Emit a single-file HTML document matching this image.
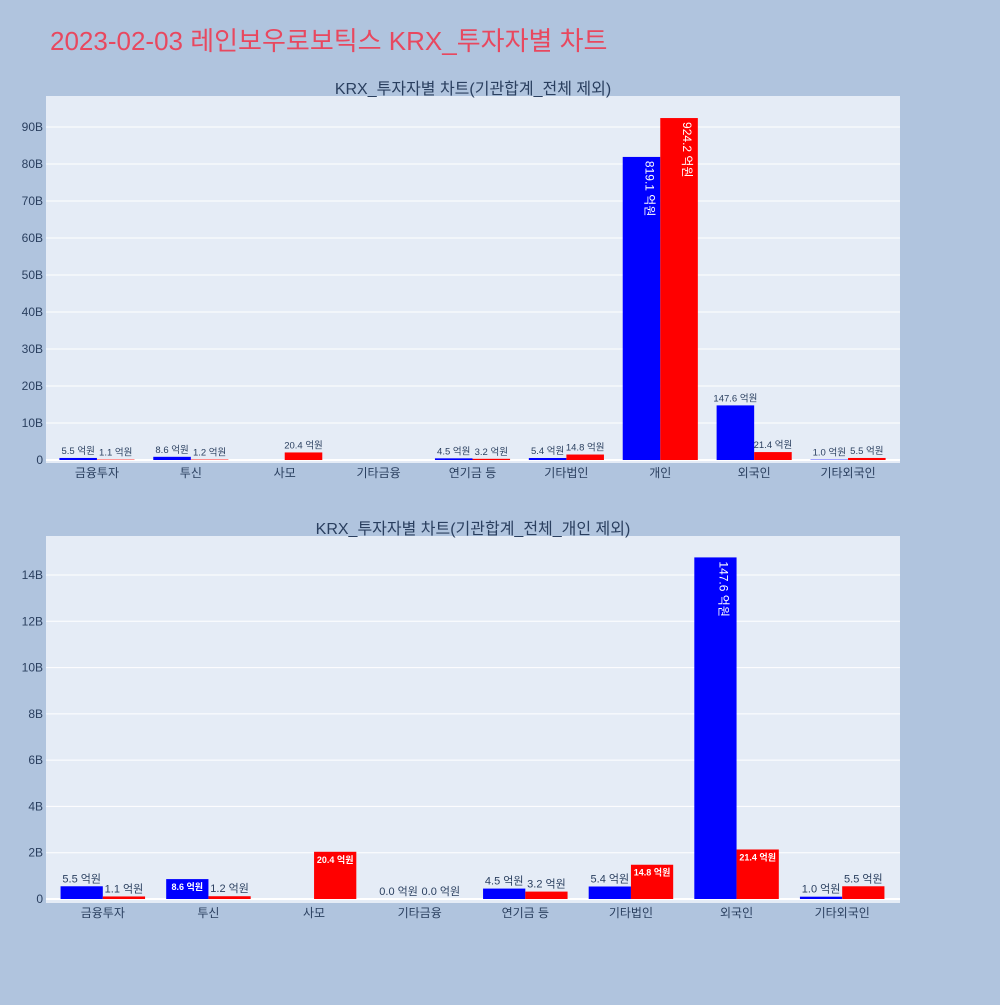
<!DOCTYPE html>
<html><head><meta charset="utf-8">
<style>
body{margin:0;background:#b0c4de;font-family:"Liberation Sans","Noto Sans CJK KR",sans-serif;}
svg text{font-family:"Liberation Sans","Noto Sans CJK KR",sans-serif;}
</style></head>
<body>
<svg id="svg" width="1000" height="1000" xmlns="http://www.w3.org/2000/svg">
<rect width="1000" height="1000" fill="#b0c4de"/>
<text x="50" y="50" font-size="26" fill="#e8485f">2023-02-03 레인보우로보틱스 KRX_투자자별 차트</text>
</svg>
<script>
const cats1 = ["금융투자","투신","사모","기타금융","연기금 등","기타법인","개인","외국인","기타외국인"];
const blue1 = [5.5, 8.6, null, null, 4.5, 5.4, 819.1, 147.6, 1.0];
const red1 = [1.1, 1.2, 20.4, null, 3.2, 14.8, 924.2, 21.4, 5.5];
const ticks1 = [0,10,20,30,40,50,60,70,80,90];
const cats2 = ["금융투자","투신","사모","기타금융","연기금 등","기타법인","외국인","기타외국인"];
const blue2 = [5.5, 8.6, null, 0.0, 4.5, 5.4, 147.6, 1.0];
const red2 = [1.1, 1.2, 20.4, 0.0, 3.2, 14.8, 21.4, 5.5];
const ticks2 = [0,2,4,6,8,10,12,14];

const NS = "http://www.w3.org/2000/svg";
const svg = document.getElementById('svg');
function mk(tag, attrs, parent){
  const e = document.createElementNS(NS, tag);
  for (const k in attrs) e.setAttribute(k, attrs[k]);
  (parent||svg).appendChild(e);
  return e;
}
function chart(cfg){
  const {top, bottom, left, right, bgLeft, y0, yMax, cats, blue, red, ticks, title, name} = cfg;
  const g = mk('g', {});
  
  
  const bg = mk('rect', {x:bgLeft, y:top, width:900-bgLeft, height:bottom-top, fill:'#e5ecf6'}, g);
  
  
  const yScale = v => y0 - (v/yMax)*(y0-cfg.yTop);
  ticks.forEach(t=>{
    const y = yScale(t);
    const ln = mk('line', {x1:bgLeft, x2:900, y1:y, y2:y, stroke:'#fff', 'stroke-width': t===0?2:1}, g);
    
    
    const tx = mk('text', {x:bgLeft-3, y:y+4, 'text-anchor':'end', 'font-size':12, fill:'#2a3f5f'}, g);
    tx.textContent = t===0 ? '0' : t+'B';
    
    
  });
  const step = (right-left)/cats.length;
  const bw = step*0.4;
  cats.forEach((c,i)=>{
    const cx = left + step*(i+0.5);
    const lab = mk('text', {x:cx, y:bottom+14, 'text-anchor':'middle', 'font-size':12, fill:'#2a3f5f'}, g);
    lab.textContent = c;
    
    
    [[blue,'#0000ff',cx-bw],[red,'#ff0000',cx]].forEach(([arr,col,x])=>{
      const v = arr[i];
      if (v===null) return;
      const yb = yScale(v/10), h = y0 - yb;
      const r = mk('rect', {x:x, y:yb, width:bw, height:Math.max(h,0), fill:col}, g);
      
      
      const s = v.toFixed(1)+' 억원';
      const tw = s.length*6.5;
      const t = mk('text', {'font-size':11}, g);
      t.textContent = s;
      
      
      if (h >= tw + 6) {
        t.setAttribute('fill','#fff');
        t.setAttribute('font-size', h > 80 ? 12 : 10);
        t.setAttribute('transform', `translate(${x+bw/2+4},${yb+4}) rotate(90)`);
      } else if (h >= 14 && bw >= tw*0.85) {
        t.setAttribute('fill','#fff');
        t.setAttribute('font-size', 9);
        t.setAttribute('font-weight','bold');
        t.setAttribute('x', x+bw/2); t.setAttribute('y', yb+11);
        t.setAttribute('text-anchor','middle');
      } else {
        t.setAttribute('fill','#2a3f5f');
        t.setAttribute('font-size', cfg.small);
        t.setAttribute('x', x+bw/2); t.setAttribute('y', yb-4);
        t.setAttribute('text-anchor','middle');
      }
    });
  });
  const tt = mk('text', {x:473, y:top-2, 'text-anchor':'middle', 'font-size':16, fill:'#2a3f5f'}, g);
  tt.textContent = title;
  
  
}
chart({name:'chart-all', top:96, bottom:463, left:50, right:895, bgLeft:46, y0:460, yTop:127, yMax:90,
  cats:cats1, blue:blue1, red:red1, ticks:ticks1, title:'KRX_투자자별 차트(기관합계_전체 제외)', small:9.5});
chart({name:'chart-excl-individual', top:536, bottom:903, left:50, right:895, bgLeft:46, y0:899, yTop:575, yMax:14,
  cats:cats2, blue:blue2, red:red2, ticks:ticks2, title:'KRX_투자자별 차트(기관합계_전체_개인 제외)', small:11});
</script>
</body></html>
